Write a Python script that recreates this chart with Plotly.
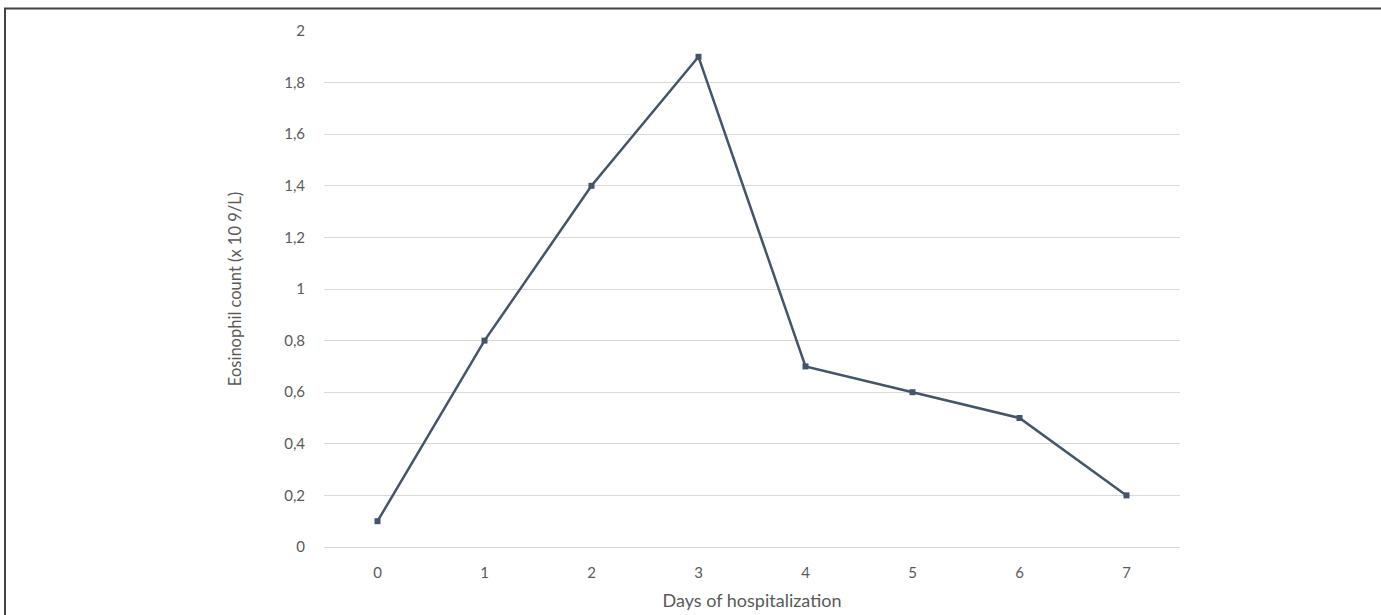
import plotly.graph_objects as go

days = ["0", "1", "2", "3", "4", "5", "6", "7"]
eosinophils = [0.1, 0.8, 1.4, 1.9, 0.7, 0.6, 0.5, 0.2]
y_ticks = [0, 0.2, 0.4, 0.6, 0.8, 1, 1.2, 1.4, 1.6, 1.8, 2]

W, H = 1381, 615
L, R, T, B = 324, 201, 31, 68
pw, ph = W - L - R, H - T - B

fig = go.Figure()
fig.add_trace(go.Scatter(
    x=days, y=eosinophils, mode="lines+markers",
    line=dict(color="#44546A", width=2.5),
    marker=dict(symbol="square", size=6, color="#44546A"),
    showlegend=False, cliponaxis=False,
))

font = "Lato"
fig.update_layout(
    width=W, height=H,
    margin=dict(l=L, r=R, t=T, b=B, autoexpand=False),
    paper_bgcolor="white", plot_bgcolor="white",
    separators=",.",
    font=dict(family=font, size=15, color="#595959"),
    xaxis=dict(
        type="category", range=[-0.5, 7.5], automargin=False,
        showgrid=False, zeroline=False,
        showline=True, linecolor="#d9d9d9", linewidth=1,
        ticks="outside", ticklen=12, tickcolor="rgba(0,0,0,0)",
        tickfont=dict(family=font, size=15, color="#595959"),
        title=dict(text="Days of hospitalization", standoff=14,
                   font=dict(family=font, size=18, color="#595959")),
    ),
    yaxis=dict(
        range=[0, 2], tickvals=y_ticks, automargin=False,
        showgrid=True, gridcolor="#d9d9d9", gridwidth=1,
        zeroline=False, showline=False,
        ticks="outside", ticklen=15, tickcolor="rgba(0,0,0,0)",
        tickfont=dict(family=font, size=15, color="#595959"),
        title=dict(text="Eosinophil count (x 10 9/L)", standoff=38,
                   font=dict(family=font, size=16.5, color="#595959")),
    ),
)

# outer frame (left/top visible, right/bottom cropped)
px = lambda p: (p - L) / pw
py = lambda p: (H - B - p) / ph
fig.add_shape(type="rect", xref="paper", yref="paper",
              x0=px(5), x1=px(W + 5), y0=py(H + 5), y1=py(8.5),
              line=dict(color="#444444", width=2), fillcolor="rgba(0,0,0,0)")

fig.write_html("out.html", config={"displayModeBar": False},
               post_script="document.body.style.margin='0px';document.body.style.overflow='hidden';")
